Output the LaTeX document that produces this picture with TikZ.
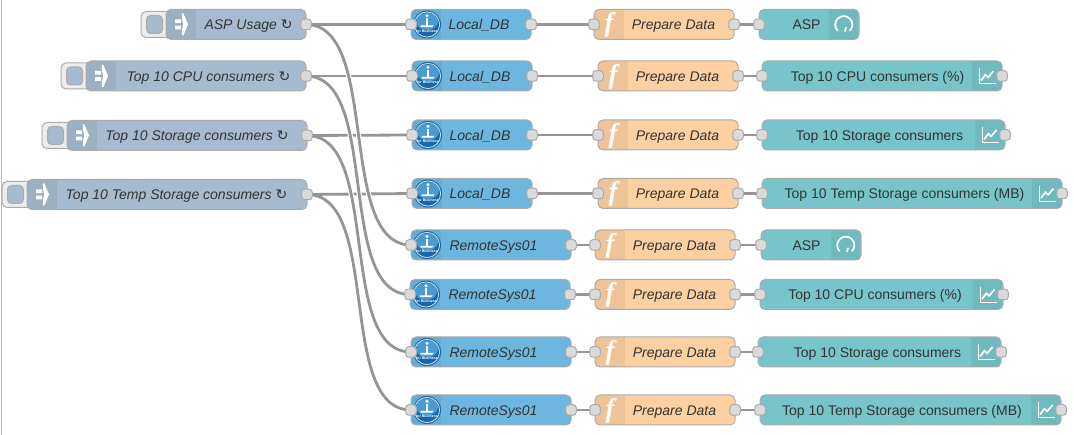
\documentclass[tikz,border=0pt]{standalone}
\usepackage{fontspec}
\setmainfont{Liberation Sans}
\newfontfamily\symfont{DejaVu Sans}
\newfontfamily\ffont{Liberation Serif}
\usetikzlibrary{backgrounds}
\definecolor{wirec}{HTML}{959595}
\definecolor{edgec}{HTML}{ABABAB}
\definecolor{portc}{HTML}{DADADA}
\definecolor{injc}{HTML}{A6BBCF}
\definecolor{fnc}{HTML}{FDD0A2}
\definecolor{dbc}{HTML}{6DB6DF}
\definecolor{dashc}{HTML}{77C5CA}
\definecolor{txtc}{HTML}{333333}
\definecolor{logoc}{HTML}{1668AC}
\definecolor{logol}{HTML}{4C9BD0}
\tikzset{
  x=1pt,y=-1pt,
  body/.style={draw=edgec,line width=1pt,rounded corners=5pt,outer sep=0pt,inner sep=0pt,minimum height=30pt},
  port/.style={draw=edgec,fill=portc,line width=1pt,rounded corners=3pt,minimum width=10.5pt,minimum height=10.5pt,inner sep=0pt,outer sep=0pt},
  wire/.style={draw=wirec,line width=2.8pt},
  casing/.style={draw=white,line width=5pt},
  lab/.style={text=txtc,font=\fontsize{14}{16}\selectfont,inner sep=0pt,anchor=base},
  ilab/.style={lab,font=\fontsize{14}{16}\selectfont\itshape},
}
% #1 name, #2 left, #3 right, #4 centre y, #5 colour, #6 panel side (l/r), #7 text centre x, #8 label style, #9 text
\newcommand{\flownode}[9]{%
  \node[body,fill=#5,minimum width={#3-#2}] (#1) at ({(#2+#3)/2},#4) {};
  \begin{scope}
    \clip[rounded corners=4.5pt] ({#2+.5},{#4-14.5}) rectangle ({#3-.5},{#4+14.5});
    \if#6l\fill[black,opacity=.06] (#2,{#4-15}) rectangle ({#2+30},{#4+15});
    \else\fill[black,opacity=.06] ({#3-30},{#4-15}) rectangle (#3,{#4+15});\fi
  \end{scope}
  \node[#8] (#1-t) at (#7,{#4+5.2}) {#9};
}
\newcommand{\inport}[2]{\node[port] (#1-i) at (#2.west) {};}
\newcommand{\outport}[2]{\node[port] (#1-o) at (#2.east) {};}
% inject: #1 name #2 button-left #3 left #4 right #5 cy #6 text centre #7 text
\newcommand{\injnode}[7]{%
  \node[draw=edgec,fill=black!7,line width=1pt,rounded corners=5pt,minimum width={#3-#2+5},minimum height=26pt,inner sep=0pt,outer sep=0pt] (#1-b) at ({(#2+#3+5)/2},#5) {};
  \node[draw=edgec,fill=injc,line width=1pt,rounded corners=4pt,minimum width=16pt,minimum height=18pt,inner sep=0pt] (#1-c) at ({#2+13.5},#5) {};
  \flownode{#1}{#3}{#4}{#5}{injc}{l}{#6}{ilab}{#7 {\symfont\itshape ↻}}
  \begin{scope}[shift={({#3+15},#5)}]
    \fill[white] (-6,-5) -- (0,-5) -- (0,-1.4) -- (-6,-1.4) -- cycle (-6,1.2) -- (0,1.2) -- (0,4.8) -- (-6,4.8) -- cycle;
    \fill[white] (.8,-11) -- (2.4,-11) -- (7,-.2) -- (2.4,11) -- (.8,11) -- (.8,7) -- (2.2,-.2) -- (.8,-7) -- cycle;
  \end{scope}
  \outport{#1}{#1}
}
% #1 name #2 left #3 right #4 cy #5 text centre #6 text
\newcommand{\dbnode}[6]{%
  \flownode{#1}{#2}{#3}{#4}{dbc}{l}{#5}{ilab}{#6}
  \begin{scope}[shift={({#2+16},#4)}]
    \fill[logoc] (0,0) circle (14pt);
    \fill[logol] (0,-3) ellipse (11pt and 8.5pt);
    \draw[white!80!logoc,line width=.8pt] (0,0) circle (12.6pt);
    \fill[white] (0,-8.7) circle (1.7pt);
    \fill[white] (-1.2,-6.2) rectangle (1.2,1.2);
    \fill[white] (-6.5,1) -- (6.5,1) -- (5,2.6) -- (-6.5,2.6) -- cycle;
    \node[text=white,inner sep=0pt,font=\fontsize{3.6}{4}\selectfont\bfseries] at (0,6.7) {for Business};
  \end{scope}
  \inport{#1}{#1}\outport{#1}{#1}
}
\newcommand{\fnnode}[4]{%
  \flownode{#1}{#2}{#3}{#4}{fnc}{l}{{#2+79.5}}{ilab}{Prepare Data}
  \node[text=white,inner sep=0pt,font=\fontsize{27}{27}\ffont\bfseries\itshape] at ({#2+15},{#4+.5}) {f};
  \inport{#1}{#1}\outport{#1}{#1}
}
% chart: #1 name #2 left #3 right #4 cy #5 text centre #6 text
\newcommand{\chartnode}[6]{%
  \flownode{#1}{#2}{#3}{#4}{dashc}{r}{#5}{lab}{#6}
  \begin{scope}[shift={({#3-15},#4)}]
    \draw[white,line width=1pt] (-8,-7.5) -- (-8,8) -- (8.5,8);
    \draw[white,line width=1.7pt,line join=round] (-6,4.5) -- (-1.5,-1.5) -- (1,1.5) -- (6.5,-5);
  \end{scope}
  \inport{#1}{#1}\outport{#1}{#1}
}
\newcommand{\gaugenode}[6]{%
  \flownode{#1}{#2}{#3}{#4}{dashc}{r}{#5}{lab}{#6}
  \begin{scope}[shift={({#3-15},#4)}]
    \draw[white,line width=1.7pt] (-6.3,6.3) arc[start angle=225,end angle=-45,radius=8.6pt];
    \draw[white,line width=1.7pt] (.8,7) -- (2.2,2.8);
  \end{scope}
  \inport{#1}{#1}
}
\newcommand{\wireconn}[2]{%
  \draw[casing] (#1.center) .. controls ([xshift=75pt]#1.center) and ([xshift=-75pt]#2.center) .. (#2.center);
  \draw[wire] (#1.center) .. controls ([xshift=75pt]#1.center) and ([xshift=-75pt]#2.center) .. (#2.center);}
\newcommand{\shortwire}[2]{\draw[wire] (#1.center) -- (#2.center);}
\begin{document}
\begin{tikzpicture}
\useasboundingbox (0,0) rectangle (1074,435);
\coordinate (bt) at (1,0); \coordinate (bb) at (1,435);
\draw[black!25,line width=1pt] (bt) -- (bb);

\injnode{i1}{141}{166}{306}{24.5}{248.5}{ASP Usage}
\injnode{i2}{61}{86}{306}{76}{208.5}{Top 10 CPU consumers}
\injnode{i3}{42}{67}{307}{135.5}{197}{Top 10 Storage consumers}
\injnode{i4}{2}{27}{307}{194.5}{176.5}{Top 10 Temp Storage consumers}

\dbnode{d1}{411}{531}{24.5}{479}{Local\_DB}
\dbnode{d2}{412}{532}{76}{480}{Local\_DB}
\dbnode{d3}{412}{532}{135}{480}{Local\_DB}
\dbnode{d4}{412}{532}{193.5}{480}{Local\_DB}
\dbnode{r1}{411}{571}{245}{493.5}{RemoteSys01}
\dbnode{r2}{410}{570}{294.5}{492.5}{RemoteSys01}
\dbnode{r3}{411}{571}{352}{493.5}{RemoteSys01}
\dbnode{r4}{411}{571}{410}{493.5}{RemoteSys01}

\fnnode{f1}{594}{734}{24.5}
\fnnode{f2}{598}{738}{76}
\fnnode{f3}{598}{738}{135}
\fnnode{f4}{598}{738}{193.5}
\fnnode{f5}{595}{735}{245}
\fnnode{f6}{595}{735}{294.5}
\fnnode{f7}{595}{735}{352}
\fnnode{f8}{595}{735}{410}

\gaugenode{o1}{759}{859}{24.5}{806.5}{ASP}
\chartnode{o2}{762}{1002}{76}{877.5}{Top 10 CPU consumers (\%)}
\chartnode{o3}{762}{1005}{135}{879.5}{Top 10 Storage consumers}
\chartnode{o4}{762}{1062}{193.5}{904.5}{Top 10 Temp Storage consumers (MB)}
\gaugenode{o5}{761}{861}{245}{806.5}{ASP}
\chartnode{o6}{760}{1003}{294.5}{875}{Top 10 CPU consumers (\%)}
\chartnode{o7}{758}{1001}{352}{877.5}{Top 10 Storage consumers}
\chartnode{o8}{760}{1061}{410}{902}{Top 10 Temp Storage consumers (MB)}

\begin{pgfonlayer}{background}
\shortwire{d1-o}{f1-i}\shortwire{d2-o}{f2-i}\shortwire{d3-o}{f3-i}\shortwire{d4-o}{f4-i}
\shortwire{r1-o}{f5-i}\shortwire{r2-o}{f6-i}\shortwire{r3-o}{f7-i}\shortwire{r4-o}{f8-i}
\shortwire{f1-o}{o1-i}\shortwire{f2-o}{o2-i}\shortwire{f3-o}{o3-i}\shortwire{f4-o}{o4-i}
\shortwire{f5-o}{o5-i}\shortwire{f6-o}{o6-i}\shortwire{f7-o}{o7-i}\shortwire{f8-o}{o8-i}
\wireconn{i4-o}{r4-i}
\shortwire{i4-o}{d4-i}
\wireconn{i3-o}{r3-i}
\shortwire{i3-o}{d3-i}
\wireconn{i2-o}{r2-i}
\shortwire{i2-o}{d2-i}
\wireconn{i1-o}{r1-i}
\shortwire{i1-o}{d1-i}
\end{pgfonlayer}
\end{tikzpicture}
\end{document}
